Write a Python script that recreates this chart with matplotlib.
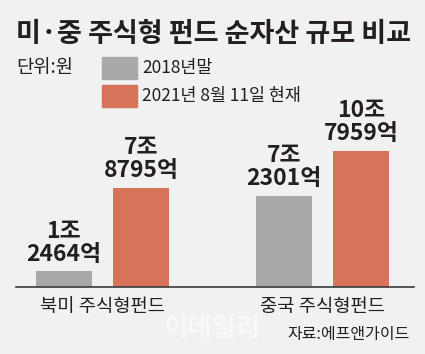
import matplotlib.pyplot as plt

plt.rcParams['font.family'] = ['Noto Sans CJK KR', 'DejaVu Sans']

# 데이터 (단위: 조원)
categories = ['북미 주식형펀드', '중국 주식형펀드']
series_names = ['2018년말', '2021년 8월 11일 현재']
values_2018 = [1.2464, 7.2301]
values_2021 = [7.8795, 10.7959]
labels_2018 = ['1조\n2464억', '7조\n2301억']
labels_2021 = ['7조\n8795억', '10조\n7959억']

gray = '#a9a9a9'
orange = '#d8735b'
bg = '#f1f1f1'
txt = '#231f20'

W, H = 425, 354
fig = plt.figure(figsize=(W / 100, H / 100), dpi=100, facecolor=bg)


def fx(px):
    return px / W


def fy(py):
    return 1 - py / H


# 축 영역: 기준선 y=287px, x 16~414px
ymax = 16
ax = fig.add_axes([fx(16), fy(287), fx(398), 12.6 * ymax / H])
ax.set_facecolor('none')
ax.set_xlim(-0.394, 1.415)
ax.set_ylim(0, ymax)
for s in ['top', 'right', 'left']:
    ax.spines[s].set_visible(False)
ax.spines['bottom'].set_color('#3a3a3a')
ax.spines['bottom'].set_linewidth(1.2)
ax.set_xticks([])
ax.set_yticks([])

# 워터마크
fig.text(fx(212), fy(329), '이데일리', color='#f8f8f8', fontsize=19,
         fontweight='bold', ha='center', va='center', zorder=0)

x = [0, 1]
off = 0.176
bw = 0.255
b1 = ax.bar([i - off for i in x], values_2018, bw, color=gray)
b2 = ax.bar([i + off for i in x], values_2021, bw, color=orange)

for bars, labels in [(b1, labels_2018), (b2, labels_2021)]:
    for b, lab in zip(bars, labels):
        ax.annotate(lab, (b.get_x() + b.get_width() / 2, b.get_height()),
                    xytext=(0, 4), textcoords='offset points',
                    ha='center', va='bottom', fontsize=16.5,
                    fontweight='bold', color=txt, linespacing=1.0)

for i, c in zip(x, categories):
    ax.text(i, -0.75, c, ha='center', va='top', fontsize=13.5,
            color=txt)

# 제목, 단위, 범례
fig.text(fx(16), fy(34), '미·중 주식형 펀드 순자산 규모 비교', fontsize=19.5,
         fontweight='bold', color=txt, va='center', ha='left')
fig.text(fx(16), fy(68), '단위:원', fontsize=13.5, color=txt,
         va='center', ha='left')

for i, (name, col) in enumerate(zip(series_names, [gray, orange])):
    top = 57 + i * 28
    fig.patches.append(plt.Rectangle((fx(102), fy(top + 22)), fx(35), 22 / H,
                                     transform=fig.transFigure, color=col))
    fig.text(fx(142), fy(top + 11), name, fontsize=12.5, color=txt,
             va='center', ha='left')

fig.text(fx(410), fy(334), '자료:에프앤가이드', fontsize=11.5, color=txt,
         va='center', ha='right')

fig.savefig('out.png', dpi=100, facecolor=bg)
